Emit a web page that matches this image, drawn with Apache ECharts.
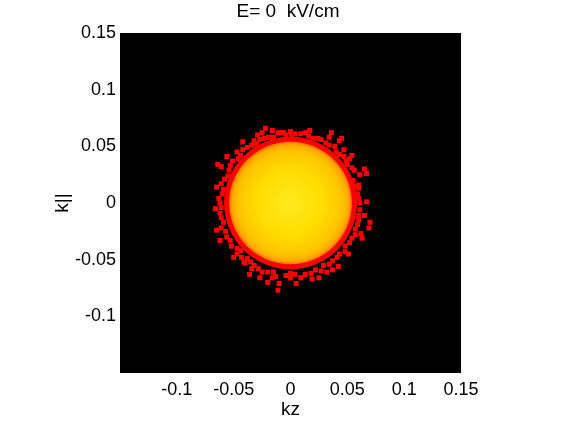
<!DOCTYPE html>
<html>
<head>
<meta charset="utf-8">
<script src="https://cdn.jsdelivr.net/npm/echarts@6/dist/echarts.min.js"></script>
<style>html,body{margin:0;padding:0;background:#fff;}#c{width:563px;height:423px;}</style>
</head>
<body>
<div id="c"></div>
<script>
// ---- data ----
const titleText = 'E= 0  kV/cm';
const xName = 'kz';
const yName = 'k||';
const axisMin = -0.15, axisMax = 0.15, axisStep = 0.05;
// yellow core disk: [kz, k||, radius]
const coreDisk = [[0, 0, 0.054]];
// dense red shell under the core: [kz, k||, radius]
const redShell = [[0, 0, 0.0585]];
// scattered red particles around the edge [kz, k||]
const redPoints = [
  [0.061,0.000],[0.067,0.001],[0.059,0.008],[0.060,0.016],[0.056,0.015],[0.061,0.025],
  [0.065,0.030],[0.054,0.031],[0.049,0.037],[0.052,0.039],[0.043,0.043],[0.047,0.047],
  [0.039,0.050],[0.043,0.055],[0.031,0.053],[0.034,0.058],[0.024,0.057],[0.016,0.059],
  [0.017,0.064],[0.009,0.061],[0.000,0.063],[0.001,0.059],[-0.008,0.062],[-0.016,0.064],
  [-0.015,0.058],[-0.023,0.057],[-0.025,0.062],[-0.032,0.055],[-0.030,0.052],[-0.038,0.049],
  [-0.042,0.054],[-0.044,0.042],[-0.047,0.045],[-0.051,0.037],[-0.054,0.029],[-0.061,0.032],
  [-0.058,0.021],[-0.059,0.012],[-0.065,0.014],[-0.063,0.004],[-0.061,-0.004],[-0.066,-0.005],
  [-0.061,-0.013],[-0.061,-0.022],[-0.065,-0.024],[-0.056,-0.030],[-0.062,-0.033],[-0.052,-0.038],
  [-0.047,-0.045],[-0.044,-0.042],[-0.041,-0.052],[-0.038,-0.049],[-0.034,-0.058],[-0.032,-0.055],
  [-0.025,-0.061],[-0.027,-0.066],[-0.016,-0.066],[-0.015,-0.061],[-0.010,-0.071],[-0.011,-0.077],
  [0.000,-0.066],[0.000,-0.062],[0.009,-0.066],[0.018,-0.062],[0.019,-0.067],[0.027,-0.060],
  [0.034,-0.054],[0.037,-0.059],[0.041,-0.048],[0.048,-0.043],[0.051,-0.045],[0.052,-0.035],
  [0.057,-0.028],[0.063,-0.031],[0.059,-0.019],[0.069,-0.022],[0.060,-0.011],[0.065,-0.011],
  [-0.064,0.034],[0.045,0.057],[0.067,0.026],[0.042,-0.056],[0.070,-0.017],[-0.006,0.062],
  [-0.029,0.060],[0.032,-0.061],[-0.040,-0.053],[0.062,-0.027],
  [0.060,0.004],[0.060,0.013],[0.055,0.020],[0.056,0.029],[0.050,0.034],[0.047,0.041],
  [0.040,0.045],[0.034,0.051],[0.027,0.056],[0.020,0.057],[0.013,0.062],[0.004,0.061],
  [-0.004,0.060],[-0.011,0.062],[-0.019,0.058],[-0.027,0.056],[-0.034,0.051],[-0.042,0.047],
  [-0.046,0.039],[-0.053,0.033],[-0.055,0.024],[-0.061,0.017],[-0.060,0.008],[-0.062,0.000],
  [-0.062,-0.009],[-0.059,-0.017],[-0.057,-0.025],[-0.053,-0.033],[-0.047,-0.040],[-0.043,-0.048],
  [-0.035,-0.052],[-0.028,-0.058],[-0.020,-0.061],[-0.013,-0.065],[-0.004,-0.064],[0.004,-0.063],
  [0.013,-0.063],[0.022,-0.059],[0.029,-0.055],[0.037,-0.051],[0.043,-0.045],[0.048,-0.038],
  [0.054,-0.031],[0.057,-0.023],[0.060,-0.015],[0.061,-0.006],
  [-0.036,-0.063],[-0.020,-0.070],[0.005,-0.071],[0.025,-0.066],[-0.050,-0.048],[0.054,0.042],
  [0.060,0.014],[-0.056,0.041],[0.036,0.062],[-0.022,0.066]
];
// ---- chart ----
const chart = echarts.init(document.getElementById('c'), null, {renderer: 'canvas'});
const font = '"Liberation Sans", Arial, Helvetica, sans-serif';
function fmt(v){ return String(parseFloat(v.toFixed(2))); }
function circleItem(fill){
  return function(params, api){
    const c = api.coord([api.value(0), api.value(1)]);
    const s = api.size([api.value(2), api.value(2)]);
    return {type:'ellipse', shape:{cx:c[0], cy:c[1], rx:s[0], ry:s[1]}, style:{fill: fill}};
  };
}
const coreFill = new echarts.graphic.RadialGradient(0.5, 0.5, 0.5, [
  {offset:0, color:'#FFEA20'},
  {offset:0.55, color:'#FFDC00'},
  {offset:0.85, color:'#FFC400'},
  {offset:0.95, color:'#FFA800'},
  {offset:1, color:'#FF7000'}
]);
chart.setOption({
  animation: false,
  backgroundColor: '#fff',
  graphic: [{
    type: 'text', x: 288, y: 2, z: 10,
    style: {text: titleText, textAlign: 'center', textVerticalAlign: 'top',
            font: '19px ' + font, fill: '#000'}
  }],
  grid: {left: 120, right: 102, top: 33, bottom: 50, show: true, backgroundColor: '#000', borderWidth: 0,
         containLabel: false, outerBoundsMode: 'none'},
  xAxis: {
    type: 'value', min: axisMin, max: axisMax, interval: axisStep,
    name: xName, nameLocation: 'middle', nameGap: 27, nameMoveOverlap: false,
    nameTextStyle: {fontFamily: font, fontSize: 19, color: '#000'},
    axisLine: {show: false}, axisTick: {show: false}, splitLine: {show: false},
    axisLabel: {showMinLabel: false, formatter: fmt, margin: 8, fontFamily: font, fontSize: 18, color: '#000'}
  },
  yAxis: {
    type: 'value', min: axisMin, max: axisMax, interval: axisStep,
    name: yName, nameLocation: 'middle', nameGap: 48, nameMoveOverlap: false,
    nameTextStyle: {fontFamily: font, fontSize: 19, color: '#000'},
    axisLine: {show: false}, axisTick: {show: false}, splitLine: {show: false},
    axisLabel: {showMinLabel: false, formatter: fmt, margin: 4, fontFamily: font, fontSize: 18, color: '#000'}
  },
  series: [
    {type: 'custom', data: redShell, renderItem: circleItem('#FF0000'), z: 1},
    {type: 'scatter', data: redPoints, symbol: 'rect', symbolSize: 5, itemStyle: {color: '#FF0000', opacity: 1}, z: 2},
    {type: 'custom', data: coreDisk, renderItem: circleItem(coreFill), z: 3}
  ]
});
</script>
</body>
</html>
